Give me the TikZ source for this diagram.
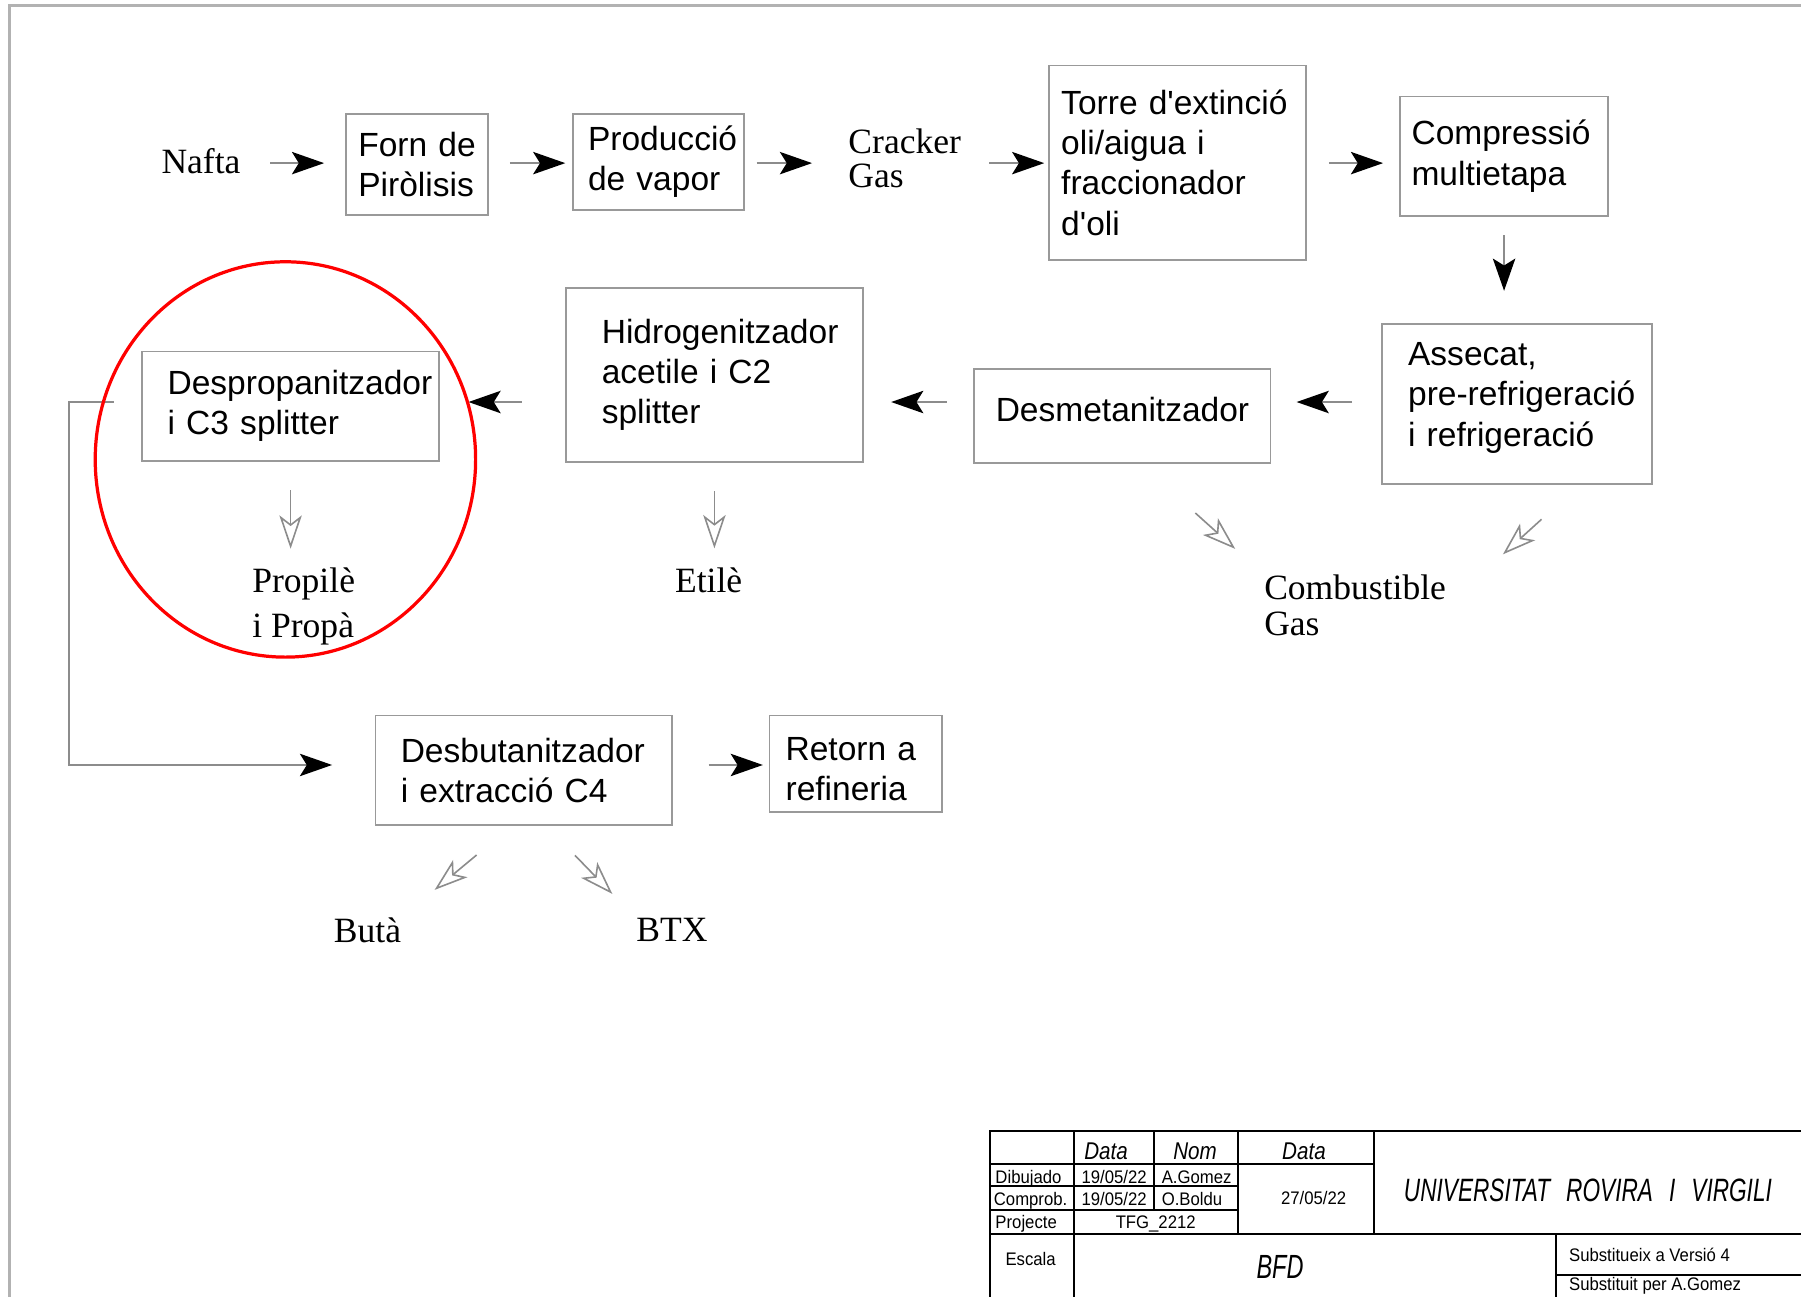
\documentclass[tikz,border=0pt]{standalone}
\usepackage{fontspec}
\setmainfont{Liberation Serif}
\newfontfamily\boxfont{Liberation Sans}
\newfontfamily\cellfont[FakeStretch=0.92]{Liberation Sans}
\newfontfamily\isofont[FakeStretch=0.7]{Liberation Sans}
\newfontfamily\isohead[FakeStretch=0.85]{Liberation Sans}
\usetikzlibrary{%
    arrows.meta,
    calc,
    positioning
}
\hyphenpenalty=10000
\exhyphenpenalty=10000
\definecolor{linegray}{gray}{0.55}
\definecolor{boxgray}{gray}{0.6}
\definecolor{framegray}{gray}{0.7}
\tikzset{flow/.style = {draw=linegray, line width=0.45pt,
    -{Stealth[length=0.28cm, width=0.195cm, inset=0.06cm, color=black]}}}
\tikzset{outflow/.style = {draw=linegray, line width=0.4pt,
    -{Stealth[open, length=0.29cm, width=0.195cm, inset=0.075cm]}}}
\tikzset{unit/.style = {draw=boxgray, line width=0.45pt, align=left, inner ysep=0pt,
    font=\boxfont\fontsize{8.3}{9.96}\selectfont}}
\tikzset{stream/.style = {inner sep=0pt, align=left, font=\fontsize{8.8}{#1}\selectfont},
    stream/.default = 10.5}
\tikzset{cell/.style = {inner sep=0pt, anchor=base, font=\cellfont\fontsize{4.5}{5}\selectfont}}
\tikzset{iso/.style = {inner sep=0pt, font=\isofont\itshape\fontsize{#1}{#1}\selectfont}}
\tikzset{isotop/.style = {inner sep=0pt, font=\isohead\itshape\fontsize{6}{6}\selectfont}}

\begin{document}
\begin{tikzpicture}[x=0.01cm, y=-0.01cm]
    \useasboundingbox (0,0) rectangle (1568,1129);
    \draw[framegray, line width=0.8pt] (8,1129) -- (8,5) -- (1568,5);

    \coordinate (row1) at (0,142);
    \coordinate (row2) at (0,350);
    \coordinate (row3) at (0,666);
    \coordinate (loop) at (60,350);

    % first row
    \node[stream] (nafta) at (175,140) {Nafta};
    \node[unit, text width=1.02cm, inner xsep=0.11cm, minimum height=0.88cm] (forn) at (363,143) {Forn~de\\Piròlisis};
    \node[unit, text width=1.23cm, inner xsep=0.13cm, minimum height=0.84cm] (prod) at (573.5,141) {Producció\\de~vapor};
    \node[stream=8.54, anchor=west] (cracker) at (738,138) {Cracker\\Gas};
    \node[unit, text width=2.02cm, inner xsep=0.11cm, minimum height=1.69cm] (torre) at (1025,141.5) {Torre~d'extinció\\oli/aigua~i\\fraccionador\\d'oli};
    \node[unit, text width=1.61cm, inner xsep=0.10cm, minimum height=1.04cm] (compr) at (1309.5,136) {Compressió\\multietapa};

    % second row
    \node[unit, text width=1.89cm, inner xsep=0.23cm, minimum height=1.39cm, text depth=0.864cm] (assecat) at (1320.5,351.5) {Assecat,\\pre-refrigeració\\i~refrigeració};
    \node[unit, text width=2.20cm, inner xsep=0.19cm, minimum height=0.82cm, text depth=0.12cm] (desmet) at (977,362) {Desmetanitzador};
    \node[unit, text width=1.96cm, inner xsep=0.31cm, minimum height=1.51cm] (hidro) at (622,326.5) {Hidrogenitzador\\acetile~i~C2\\splitter};
    \node[unit, text width=2.14cm, inner xsep=0.22cm, minimum height=0.95cm] (desprop) at (253,353.5) {Despropanitzador\\i~C3~splitter};

    % third row
    \node[unit, text width=2.14cm, inner xsep=0.22cm, minimum height=0.95cm] (desbut) at (456,670.5) {Desbutanitzador\\i~extracció~C4};
    \node[unit, text width=1.22cm, inner xsep=0.14cm, minimum height=0.84cm, text height=0.29cm] (retorn) at (745,665) {Retorn~a\\refineria};

    % products
    \node[stream=11.1, anchor=west] (propi) at (219,528) {Propilè\\i Propà};
    \node[stream] (etile) at (617,505) {Etilè};
    \node[stream=8.8, anchor=west] (comb) at (1100,527) {Combustible\\Gas};
    \node[stream] (buta) at (320,810) {Butà};
    \node[stream] (btx) at (585,810) {BTX};

    \foreach \from/\to/\gapa/\gapb in {%
        nafta/forn/0.25cm/0.18cm,
        forn/prod/0.18cm/0.06cm,
        prod/cracker/0.10cm/0.31cm,
        cracker/torre/0.24cm/0.03cm,
        torre/compr/0.19cm/0.14cm%
        }
        \draw[flow, shorten <=\gapa, shorten >=\gapb] (\from.east |- row1) -- (\to.west |- row1);

    \draw[flow, shorten <=0.16cm, shorten >=0.28cm] (compr.south) -- (compr.south |- assecat.north);

    \foreach \from/\to/\gapa/\gapb in {%
        assecat/desmet/0.25cm/0.22cm,
        desmet/hidro/0.23cm/0.24cm,
        hidro/desprop/0.38cm/0.25cm%
        }
        \draw[flow, shorten <=\gapa, shorten >=\gapb] (\from.west |- row2) -- (\to.east |- row2);

    \draw[flow, shorten <=0.24cm, shorten >=0.37cm] (desprop.west |- row2) -- (loop) |- (desbut.west |- row3);
    \draw[flow, shorten <=0.31cm, shorten >=0.05cm] (desbut.east |- row3) -- (retorn.west |- row3);

    \draw[outflow, shorten <=0.25cm, shorten >=0.16cm] (desprop.south) -- (desprop.south |- propi.north);
    \draw[outflow, shorten <=0.25cm, shorten >=0.16cm] (hidro.south) -- (hidro.south |- etile.north);
    \draw[outflow, shorten <=0.64cm, shorten >=0.33cm] (desmet.-69) -- (comb.north west);
    \draw[outflow, shorten <=0.45cm, shorten >=0.66cm] (assecat.-52) -- (comb.east);
    \draw[outflow, shorten <=0.40cm, shorten >=0.37cm] (desbut.-102) -- (buta.north east);
    \draw[outflow, shorten <=0.36cm, shorten >=0.29cm] (desbut.-68) -- (btx.north west);

    \draw[red, line width=0.8pt] (248.5,400) ellipse [x radius=1.655cm, y radius=1.72cm];

    % title block
    \draw[line width=0.5pt] (1568,985) -- (862,985) -- (862,1129);
    \foreach \xa/\xb/\y in {862/1196.5/1013, 862/1078/1032.6, 862/1078/1053.5, 862/1568/1074.5, 1354.4/1568/1110}
        \draw[line width=0.5pt] (\xa,\y) -- (\xb,\y);
    \foreach \x/\ya/\yb in {935.3/985/1129, 1004.7/985/1053.5, 1078/985/1074.5, 1196.5/985/1074.5, 1354.4/1074.5/1129}
        \draw[line width=0.5pt] (\x,\ya) -- (\x,\yb);

    \node[isotop] (hdata) at (963,1002.7) {Data};
    \node[isotop] (hnom) at (1040.4,1002.7) {Nom};
    \node[isotop] (hdata2) at (1135.3,1002.7) {Data};
    \node[cell, anchor=base west] (dib) at (866,1030) {Dibujado};
    \node[cell, anchor=base west] (comp) at (864.6,1049.8) {Comprob.};
    \node[cell, anchor=base west] (proj) at (866,1069.2) {Projecte};
    \node[cell] (d1) at (970,1030) {19/05/22};
    \node[cell] (d2) at (970,1049.8) {19/05/22};
    \node[cell, anchor=base west] (n1) at (1010.8,1030) {A.Gomez};
    \node[cell, anchor=base west] (n2) at (1010.8,1049.8) {O.Boldu};
    \node[cell] (d3) at (1143.7,1049) {27/05/22};
    \node[cell] (tfg) at (1006.2,1069.2) {TFG\_2212};
    \node[iso=8] (uni) at (1382.5,1036.3) {UNIVERSITAT\hspace{0.14cm}ROVIRA\hspace{0.14cm}I\hspace{0.14cm}VIRGILI};
    \node[cell] (esc) at (897.3,1102) {Escala};
    \node[iso=8.3] (bfd) at (1114.4,1103) {BFD};
    \node[cell, anchor=base west] (subs1) at (1365.4,1098.2) {Substitueix a Versió 4};
    \node[cell, anchor=base west] (subs2) at (1365.4,1123.5) {Substituit per A.Gomez};
\end{tikzpicture}
\end{document}
